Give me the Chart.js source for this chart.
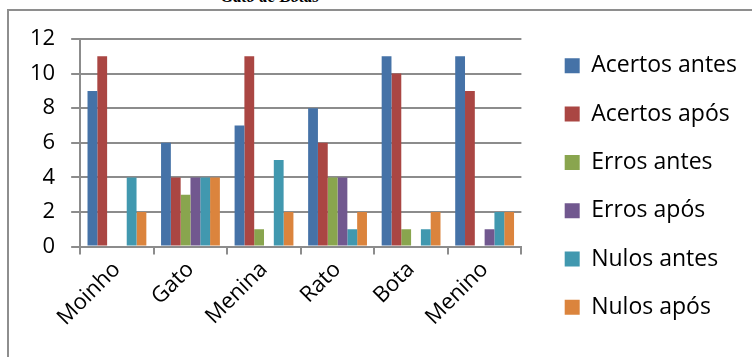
<!DOCTYPE html>
<html>
<head>
<meta charset="utf-8">
<script src="https://cdn.jsdelivr.net/npm/chart.js@4/dist/chart.umd.min.js"></script>
<style>
  html, body { margin: 0; padding: 0; background: #fff; }
  #wrap { position: relative; width: 752px; height: 357px; overflow: hidden; }
  #frame { position: absolute; left: 7px; top: 9px; width: 800px; height: 400px;
           border-left: 2px solid #8e8e8e; border-top: 2px solid #8e8e8e; }
  #title { position: absolute; left: 170px; width: 200px; top: -13px; text-align: center;
           font: italic bold 17px "Liberation Serif", serif; color: #000; }
  canvas { position: absolute; left: 0; top: 0; }
</style>
</head>
<body>
<div id="wrap">
  <div id="title">Gato de Botas</div>
  <div id="frame"></div>
  <canvas id="c" width="752" height="357"></canvas>
</div>
<script>
const categories = ['Moinho', 'Gato', 'Menina', 'Rato', 'Bota', 'Menino'];
const acertosAntes = [9, 6, 7, 8, 11, 11];
const acertosApos  = [11, 4, 11, 6, 10, 9];
const errosAntes   = [0, 3, 1, 4, 1, 0];
const errosApos    = [0, 4, 0, 4, 0, 1];
const nulosAntes   = [4, 4, 5, 1, 1, 2];
const nulosApos    = [2, 4, 2, 2, 2, 2];
const yTicks = [0, 2, 4, 6, 8, 10, 12];

const seriesNames = ['Acertos antes', 'Acertos após', 'Erros antes', 'Erros após', 'Nulos antes', 'Nulos após'];
const seriesData = [acertosAntes, acertosApos, errosAntes, errosApos, nulosAntes, nulosApos];
const seriesColors = ['#4572A7', '#AA4643', '#89A54E', '#71588F', '#4198AF', '#DB843D'];

const FONT = '"Open Sans", sans-serif';
const GRID = '#8c8c8c';

// empty spacer axes that only reserve room around the plot
const spacer = (position, size) => ({
  position,
  display: true,
  grid: { display: false },
  border: { display: false },
  ticks: { display: false },
  afterFit: (scale) => {
    if (scale.isHorizontal()) scale.height = size; else scale.width = size;
  }
});

new Chart(document.getElementById('c'), {
  type: 'bar',
  data: {
    labels: categories,
    datasets: seriesNames.map((name, i) => ({
      label: name,
      data: seriesData[i],
      backgroundColor: seriesColors[i],
      borderWidth: 0,
      barPercentage: 1,
      categoryPercentage: 0.8
    }))
  },
  options: {
    responsive: false,
    animation: false,
    layout: { padding: { left: 14, top: 29, right: 5, bottom: 2 } },
    plugins: {
      tooltip: { enabled: false },
      legend: {
        position: 'right',
        align: 'start',
        maxWidth: 260,
        labels: {
          boxWidth: 15,
          boxHeight: 15,
          padding: 25.3,
          color: '#000',
          font: { family: FONT, size: 23 }
        }
      }
    },
    scales: {
      x: {
        grid: { display: true, drawOnChartArea: false, offset: true, color: GRID, lineWidth: 2, tickLength: 8 },
        border: { color: GRID, width: 2 },
        ticks: { color: '#000', font: { family: FONT, size: 22 }, minRotation: 45, maxRotation: 45, padding: 2 }
      },
      y: {
        min: 0, max: 12,
        afterBuildTicks: (scale) => { scale.ticks = yTicks.map(v => ({ value: v })); },
        grid: { color: GRID, lineWidth: 2, tickLength: 9 },
        border: { color: GRID, width: 2 },
        ticks: { color: '#000', font: { family: FONT, size: 22 }, padding: 16 }
      },
      gapRight: spacer('right', 18),
      gapTop: spacer('top', 10),
      gapBottom: spacer('bottom', 22)
    }
  }
});
</script>
</body>
</html>
